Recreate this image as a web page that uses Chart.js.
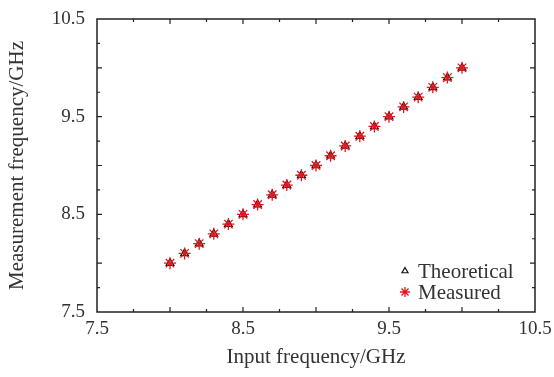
<!DOCTYPE html>
<html>
<head>
<meta charset="utf-8">
<script src="https://cdn.jsdelivr.net/npm/chart.js@4/dist/chart.umd.min.js"></script>
<style>
  html, body { margin: 0; padding: 0; background: #fff; }
  #wrap { width: 554px; height: 377px; position: relative; }
</style>
</head>
<body>
<div id="wrap"><canvas id="chart"></canvas></div>
<script>
// --------- Data ----------
const inputFreq = [8.0, 8.1, 8.2, 8.3, 8.4, 8.5, 8.6, 8.7, 8.8, 8.9, 9.0,
                   9.1, 9.2, 9.3, 9.4, 9.5, 9.6, 9.7, 9.8, 9.9, 10.0];
const theoretical = [8.0, 8.1, 8.2, 8.3, 8.4, 8.5, 8.6, 8.7, 8.8, 8.9, 9.0,
                     9.1, 9.2, 9.3, 9.4, 9.5, 9.6, 9.7, 9.8, 9.9, 10.0];
const measured = [8.0, 8.1, 8.2, 8.3, 8.4, 8.5, 8.6, 8.7, 8.8, 8.9, 9.0,
                  9.1, 9.2, 9.3, 9.4, 9.5, 9.6, 9.7, 9.8, 9.9, 10.0];
const tickLabels = [7.5, 8.5, 9.5, 10.5];

const FONT = "'Liberation Serif', 'Times New Roman', serif";
const AXIS_COLOR = "#222";
const TEXT_COLOR = "#333";

function pts(ys) {
  return inputFreq.map((x, i) => ({ x, y: ys[i] }));
}
function labelOnly(v) {
  return tickLabels.some(t => Math.abs(t - v) < 1e-6) ? v.toFixed(1) : "";
}

// box + inward ticks + legend, all placed via the chart's own scales
const framePlugin = {
  id: "frame",
  afterDraw(chart) {
    const { ctx, chartArea: a, scales } = chart;
    ctx.save();
    ctx.strokeStyle = AXIS_COLOR;
    ctx.lineWidth = 1.5;
    ctx.strokeRect(a.left, a.top, a.right - a.left, a.bottom - a.top);
    ctx.lineWidth = 1.2;
    ctx.beginPath();
    for (let v = 7.75; v < 10.5 - 1e-6; v += 0.25) {
      const major = Math.abs(v * 2 - Math.round(v * 2)) < 1e-6;
      const len = major ? 5 : 3;
      const px = scales.x.getPixelForValue(v);
      ctx.moveTo(px, a.bottom); ctx.lineTo(px, a.bottom - len);
      ctx.moveTo(px, a.top); ctx.lineTo(px, a.top + len);
      const py = scales.y.getPixelForValue(v);
      ctx.moveTo(a.left, py); ctx.lineTo(a.left + len, py);
      ctx.moveTo(a.right, py); ctx.lineTo(a.right - len, py);
    }
    ctx.stroke();

    // legend, bottom right inside the box
    const items = chart.data.datasets;
    const lx = 405, ty = [271, 292];
    ctx.font = "21px " + FONT;
    ctx.textBaseline = "middle";
    items.forEach((ds, i) => {
      ctx.strokeStyle = ds.borderColor;
      ctx.fillStyle = ds.backgroundColor;
      ctx.lineWidth = ds.borderWidth;
      Chart.helpers.drawPoint(ctx, {
        pointStyle: ds.pointStyle,
        radius: ds.legendRadius,
        borderWidth: ds.borderWidth
      }, lx, ty[i]);
      ctx.fillStyle = TEXT_COLOR;
      ctx.fillText(ds.label, lx + 13, ty[i] + 1);
    });
    ctx.restore();
  }
};

new Chart(document.getElementById("chart"), {
  type: "scatter",
  data: {
    datasets: [
      {
        label: "Theoretical",
        data: pts(theoretical),
        pointStyle: "triangle",
        pointRadius: 4.5,
        legendRadius: 3.5,
        borderColor: "#111",
        backgroundColor: "rgba(0,0,0,0)",
        borderWidth: 1.2,
        order: 2
      },
      {
        label: "Measured",
        data: pts(measured),
        pointStyle: "star",
        pointRadius: 6,
        legendRadius: 5,
        borderColor: "#e8141c",
        backgroundColor: "#e8141c",
        borderWidth: 1.3,
        order: 1
      }
    ]
  },
  options: {
    responsive: true,
    maintainAspectRatio: false,
    animation: false,
    layout: { padding: { top: 19, right: 19, left: 0, bottom: 0 } },
    plugins: {
      legend: { display: false },
      tooltip: { enabled: false }
    },
    scales: {
      x: {
        type: "linear",
        min: 7.5, max: 10.5,
        afterFit: s => { s.height = 65; s.paddingLeft = 0; s.paddingRight = 0; },
        grid: { display: false, drawTicks: false },
        border: { display: false },
        ticks: {
          stepSize: 0.25,
          autoSkip: false,
          maxRotation: 0,
          padding: 6,
          color: TEXT_COLOR,
          font: { family: FONT, size: 19 },
          callback: v => labelOnly(v)
        },
        title: {
          display: true,
          text: "Input frequency/GHz",
          color: TEXT_COLOR,
          font: { family: FONT, size: 21 },
          padding: { top: 4, bottom: 7 }
        }
      },
      y: {
        type: "linear",
        min: 7.5, max: 10.5,
        afterFit: s => { s.width = 97; s.paddingTop = 0; s.paddingBottom = 0; },
        grid: { display: false, drawTicks: false },
        border: { display: false },
        ticks: {
          stepSize: 0.25,
          autoSkip: false,
          padding: 12,
          color: TEXT_COLOR,
          font: { family: FONT, size: 19 },
          callback: v => labelOnly(v)
        },
        title: {
          display: true,
          text: "Measurement frequency/GHz",
          color: TEXT_COLOR,
          font: { family: FONT, size: 21 },
          padding: { top: 5, bottom: 0 }
        }
      }
    }
  },
  plugins: [framePlugin]
});
</script>
</body>
</html>
